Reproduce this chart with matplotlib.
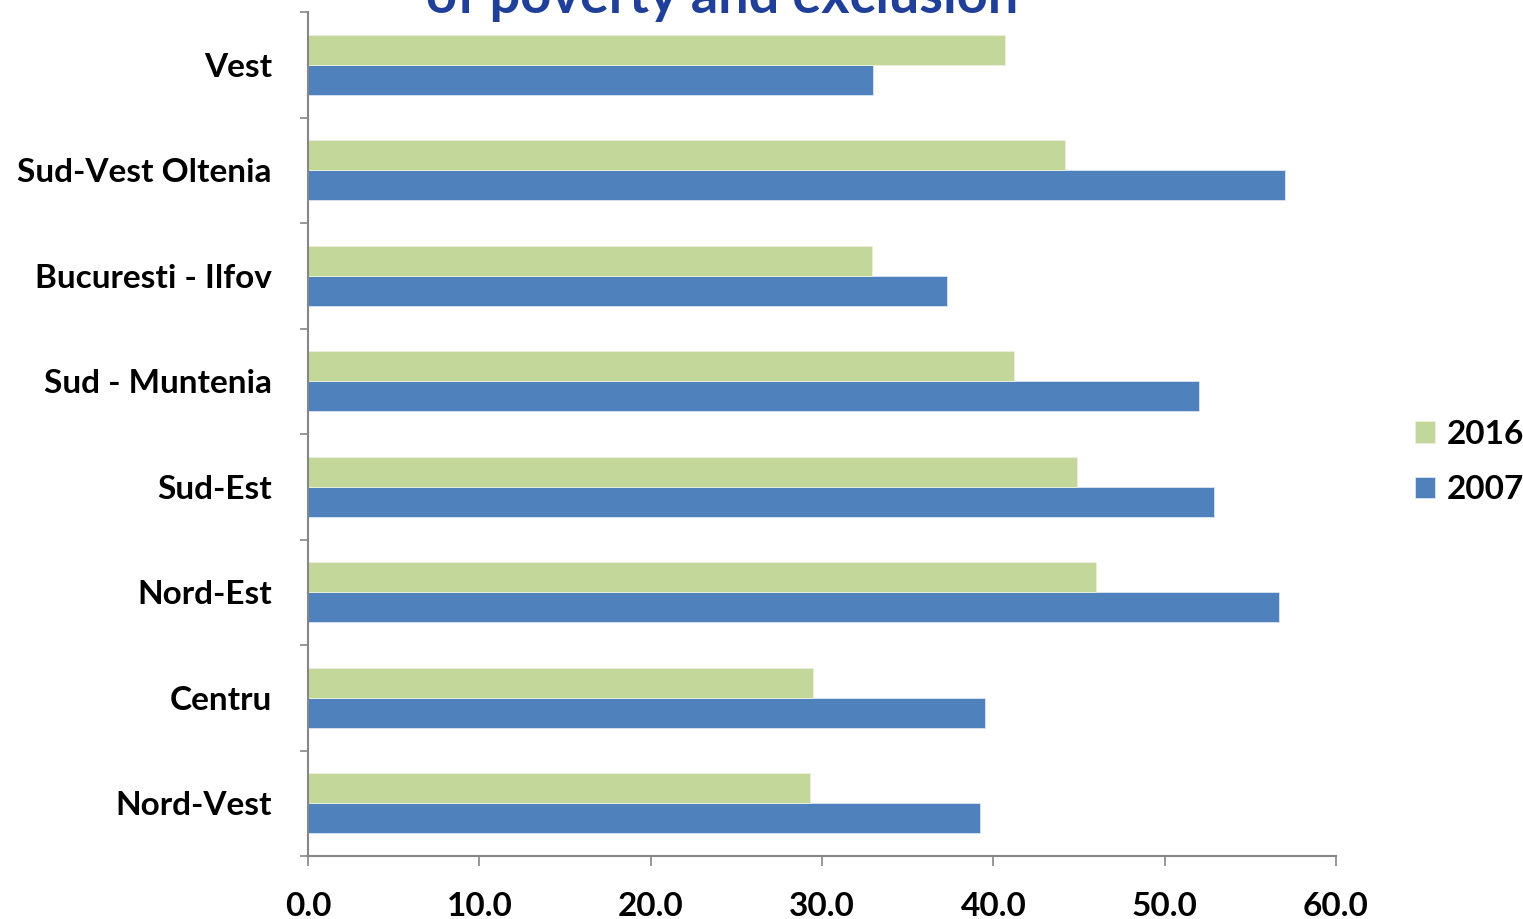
import matplotlib
matplotlib.use("Agg")
import matplotlib.pyplot as plt
import numpy as np

plt.rcParams['font.family'] = ['Lato', 'DejaVu Sans']

regions = ["Nord-Vest", "Centru", "Nord-Est", "Sud-Est", "Sud - Muntenia",
           "Bucuresti - Ilfov", "Sud-Vest Oltenia", "Vest"]
values_2016 = [29.3, 29.5, 46.0, 44.9, 41.2, 32.9, 44.2, 40.7]
values_2007 = [39.2, 39.5, 56.7, 52.9, 52.0, 37.3, 57.0, 33.0]
x_ticks = [0, 10, 20, 30, 40, 50, 60]

green = "#C4D79B"
blue = "#4F81BD"
axis_grey = "#868686"

W, H = 1523, 919
fig = plt.figure(figsize=(W / 100, H / 100), dpi=100)
ax = fig.add_axes([308 / W, (H - 856) / H, (1336 - 308) / W, (856 - 12) / H])

y = np.arange(len(regions))
bar_h = 0.285
ax.barh(y - bar_h / 2, values_2007, height=bar_h, color=blue, label="2007",
        edgecolor="#DCE6F2", linewidth=0.6)
ax.barh(y + bar_h / 2, values_2016, height=bar_h, color=green, label="2016",
        edgecolor="#EBF1DE", linewidth=0.6)

ax.set_xlim(0, 60)
ax.set_ylim(-0.5, len(regions) - 0.5)

ax.set_xticks(x_ticks)
ax.set_xticklabels([f"{v:.1f}" for v in x_ticks], fontsize=24, fontweight="bold")
ax.set_yticks(y)
ax.set_yticklabels(regions, fontsize=24, fontweight="bold")
ax.set_yticks(np.arange(-0.5, len(regions)), minor=True)

ax.tick_params(axis="y", which="major", length=0, pad=26)
ax.tick_params(axis="y", which="minor", length=6, color=axis_grey, width=1.2)
ax.tick_params(axis="x", length=7, color=axis_grey, width=1.2, pad=19)

for side in ("top", "right"):
    ax.spines[side].set_visible(False)
for side in ("left", "bottom"):
    ax.spines[side].set_color(axis_grey)
    ax.spines[side].set_linewidth(1.5)

handles, labels = ax.get_legend_handles_labels()
leg = fig.legend(handles[::-1], labels[::-1], loc="center left",
                 bbox_to_anchor=(1415 / W, 1 - 462 / H), frameon=False,
                 prop={"size": 24, "weight": "bold"}, handlelength=0.6,
                 handleheight=0.6, handletextpad=0.35, labelspacing=0.8,
                 borderpad=0, borderaxespad=0)

fig.text(722 / W, 1 - 13 / H, "of poverty and exclusion", ha="center",
         va="baseline", fontsize=39, fontweight="bold", color="#1F3F99")

fig.savefig("out.png", dpi=100)
